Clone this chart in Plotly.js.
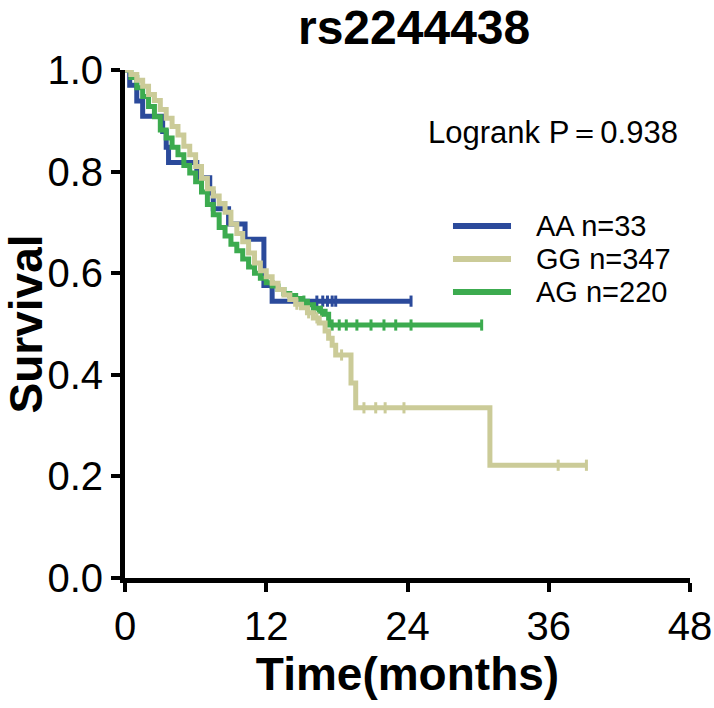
<!DOCTYPE html>
<html>
<head>
<meta charset="utf-8">
<script src="https://cdn.plot.ly/plotly-3.0.1.min.js"></script>
<style>html,body{margin:0;padding:0;background:#fff;}#chart{width:714px;height:708px;}</style>
</head>
<body>
<div id="chart"></div>
<script>
// ---- data ----
const chartTitle = 'rs2244438';
const groupNames = ['AA', 'GG', 'AG'];
const groupN = [33, 347, 220];
const pValueText = 'Logrank P＝0.938';
const xTicks = [0, 12, 24, 36, 48];
const yTicks = [0, 0.2, 0.4, 0.6, 0.8, 1.0];

// AA genotype (step curve)
const monthsAA = [0, 0.4, 1.0, 1.5, 3.2, 3.5, 3.7, 6.1, 7.2, 7.5, 8.8, 10.2, 11.8, 12.5, 24.3];
const survAA   = [1.0, 0.970, 0.939, 0.909, 0.879, 0.848, 0.818, 0.788, 0.758, 0.727, 0.697, 0.667, 0.576, 0.545, 0.545];
const censMonthsAA = [16.3, 16.8, 17.2, 17.6, 17.9, 24.3];
const censSurvAA   = [0.545, 0.545, 0.545, 0.545, 0.545, 0.545];

// GG genotype
const monthsGG = [0, 0.5, 1.0, 1.5, 2.0, 2.5, 3.0, 3.5, 4.0, 4.5, 5.0, 5.5, 6.0, 6.5, 7.0, 7.5, 8.0, 8.5, 9.0, 9.5,
                  10.0, 10.5, 11.0, 11.5, 12.0, 12.5, 13.0, 13.5, 14.0, 14.5, 15.0, 15.5, 16.0, 16.5, 17.0, 17.3,
                  17.6, 17.9, 19.2, 19.6, 31.0, 39.2];
const survGG   = [1.0, 0.991, 0.980, 0.968, 0.952, 0.940, 0.922, 0.905, 0.889, 0.872, 0.850, 0.833, 0.810, 0.787,
                  0.766, 0.752, 0.737, 0.720, 0.697, 0.678, 0.662, 0.640, 0.620, 0.605, 0.593, 0.580, 0.568, 0.557,
                  0.548, 0.539, 0.532, 0.522, 0.512, 0.502, 0.486, 0.472, 0.458, 0.439, 0.384, 0.335, 0.222, 0.222];
const censMonthsGG = [14.6, 15.6, 16.3, 18.4, 20.3, 21.3, 22.1, 23.7, 36.8, 39.2];
const censSurvGG   = [0.539, 0.522, 0.512, 0.439, 0.335, 0.335, 0.335, 0.335, 0.222, 0.222];

// AG genotype
const monthsAG = [0, 0.5, 1.0, 1.5, 2.0, 2.5, 3.0, 3.5, 4.0, 4.5, 5.0, 5.5, 6.0, 6.5, 7.0, 7.5, 8.0, 8.5, 9.0, 9.5,
                  10.0, 10.5, 11.0, 11.5, 12.0, 12.5, 13.0, 13.5, 14.0, 14.5, 15.0, 15.5, 16.0, 16.5, 17.0, 17.3, 30.3];
const survAG   = [1.0, 0.985, 0.965, 0.948, 0.928, 0.908, 0.882, 0.866, 0.848, 0.833, 0.812, 0.797, 0.780, 0.760,
                  0.735, 0.715, 0.690, 0.673, 0.657, 0.644, 0.628, 0.612, 0.600, 0.590, 0.581, 0.575, 0.568, 0.560,
                  0.556, 0.550, 0.545, 0.538, 0.531, 0.525, 0.519, 0.498, 0.498];
const censMonthsAG = [15.2, 16.1, 16.7, 17.6, 18.2, 18.8, 19.7, 20.9, 22.0, 23.0, 24.3, 30.3];
const censSurvAG   = [0.545, 0.531, 0.525, 0.498, 0.498, 0.498, 0.498, 0.498, 0.498, 0.498, 0.498, 0.498];

// ---- styling ----
const colorAA = '#2b4a9b';
const colorGG = '#cbcb98';
const colorAG = '#3cab4f';
const FONT = 'Liberation Sans, Arial, Helvetica, sans-serif';

function curve(x, y, color, name) {
  return {x: x, y: y, type: 'scatter', mode: 'lines', name: name,
          line: {shape: 'hv', color: color, width: 5}, showlegend: false, hoverinfo: 'skip'};
}
function censor(x, y, color) {
  return {x: x, y: y, type: 'scatter', mode: 'markers', showlegend: false, hoverinfo: 'skip',
          cliponaxis: false,
          marker: {symbol: 'line-ns-open', size: 8, color: color, line: {color: color, width: 3}}};
}

const labels = groupNames.map((g, i) => g + ' n=' + groupN[i]);
const colorsByGroup = [colorAA, colorGG, colorAG];

const traces = [
  curve(monthsAA, survAA, colorAA, labels[0]),
  censor(censMonthsAA, censSurvAA, colorAA),
  curve(monthsAG, survAG, colorAG, labels[2]),
  censor(censMonthsAG, censSurvAG, colorAG),
  curve(monthsGG, survGG, colorGG, labels[1]),
  censor(censMonthsGG, censSurvGG, colorGG)
];

// legend key positions (paper coords)
const legendY = [0.693, 0.628, 0.563];
const shapes = legendY.map((yy, i) => ({
  type: 'line', xref: 'paper', yref: 'paper', x0: 0.5805, x1: 0.6832, y0: yy, y1: yy,
  line: {color: colorsByGroup[i], width: 6}
}));
const annotations = legendY.map((yy, i) => ({
  xref: 'paper', yref: 'paper', x: 0.7257, y: yy, xanchor: 'left', yanchor: 'middle',
  text: labels[i], showarrow: false, borderpad: 0,
  font: {family: FONT, size: 29, color: '#000'}
}));
annotations.push({
  xref: 'paper', yref: 'paper', x: 0.5345, y: 0.876, xanchor: 'left', yanchor: 'middle',
  text: pValueText, showarrow: false, borderpad: 0,
  font: {family: FONT, size: 31, color: '#000'}
});

const layout = {
  width: 714, height: 708,
  margin: {l: 125, r: 24, t: 70, b: 130},
  paper_bgcolor: '#fff', plot_bgcolor: '#fff',
  font: {family: FONT, color: '#000'},
  title: {text: chartTitle, font: {family: FONT, size: 48, weight: 'bold', color: '#000'},
          x: 0.58, xref: 'container', xanchor: 'center', y: 0.962, yref: 'container', yanchor: 'middle'},
  xaxis: {
    range: [0, 48], tickvals: xTicks, ticktext: xTicks.map(String),
    showline: true, linewidth: 5, linecolor: '#000', mirror: false,
    ticks: 'outside', ticklen: 9, tickwidth: 4, tickcolor: '#000',
    showgrid: false, zeroline: false, fixedrange: true,
    tickfont: {family: FONT, size: 40, color: '#000'},
    title: {text: 'Time(months)', font: {family: FONT, size: 46, weight: 'bold', color: '#000'}, standoff: 6}
  },
  yaxis: {
    range: [0, 1.0], tickvals: yTicks, ticktext: yTicks.map(v => v.toFixed(1)),
    showline: true, linewidth: 5, linecolor: '#000',
    ticks: 'outside', ticklen: 9, tickwidth: 4, tickcolor: '#000',
    showgrid: false, zeroline: false, fixedrange: true,
    tickfont: {family: FONT, size: 40, color: '#000'},
    title: {text: 'Survival', font: {family: FONT, size: 46, weight: 'bold', color: '#000'}, standoff: 6}
  },
  shapes: shapes,
  annotations: annotations,
  showlegend: false
};

Plotly.newPlot('chart', traces, layout, {staticPlot: true, displayModeBar: false});
</script>
</body>
</html>
